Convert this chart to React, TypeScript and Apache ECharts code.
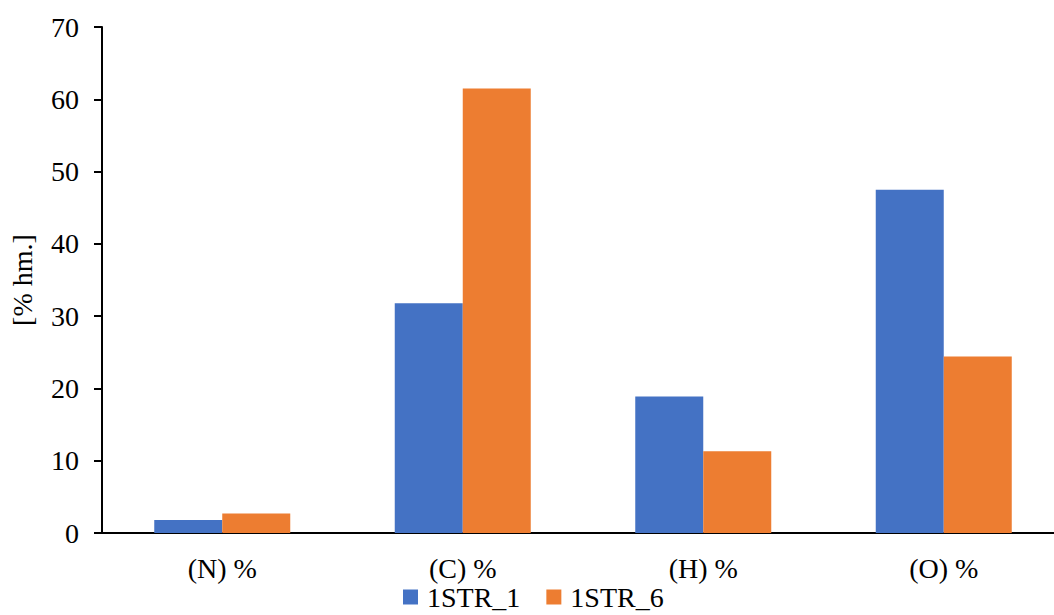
import React, { useEffect, useRef } from "react";
import * as echarts from "echarts";

const categories = ["(N) %", "(C) %", "(H) %", "(O) %"];
const series1Name = "1STR_1";
const series6Name = "1STR_6";
const series1Values = [1.8, 31.8, 18.9, 47.5];
const series6Values = [2.7, 61.5, 11.3, 24.4];
const yTicks = { min: 0, max: 70, interval: 10 };

const FONT = "Liberation Serif";

export default function App() {
  const ref = useRef<HTMLDivElement>(null);
  useEffect(() => {
    if (!ref.current) return;
    const chart = echarts.init(ref.current, undefined, { renderer: "svg" });
    chart.setOption({
      animation: false,
      backgroundColor: "#ffffff",
      textStyle: { fontFamily: FONT },
      grid: { left: 100, top: 27, right: 0, bottom: 82, containLabel: false },
      legend: {
        data: [series1Name, series6Name],
        top: 583,
        left: 403,
        padding: 0,
        icon: "rect",
        itemWidth: 15,
        itemHeight: 15,
        itemGap: 26,
        textStyle: { fontFamily: FONT, fontSize: 28, color: "#000", padding: [0, 0, 0, 4] },
      },
      xAxis: {
        type: "category",
        data: categories,
        axisLine: { show: true, lineStyle: { color: "#000", width: 2 } },
        axisTick: { show: false },
        axisLabel: { fontFamily: FONT, fontSize: 28, color: "#000", margin: 21 },
      },
      yAxis: {
        type: "value",
        min: yTicks.min,
        max: yTicks.max,
        interval: yTicks.interval,
        name: "[% hm.]",
        nameLocation: "middle",
        nameGap: 66,
        nameTextStyle: { fontFamily: FONT, fontSize: 28, color: "#000" },
        axisLine: { show: true, lineStyle: { color: "#000", width: 2 } },
        axisTick: { show: true, length: 8, lineStyle: { color: "#000", width: 2 } },
        axisLabel: { fontFamily: FONT, fontSize: 28, color: "#000", margin: 23 },
        splitLine: { show: false },
      },
      series: [
        {
          name: series1Name,
          type: "bar",
          data: series1Values,
          barWidth: 68,
          barGap: "0%",
          itemStyle: { color: "#4472C4" },
        },
        {
          name: series6Name,
          type: "bar",
          data: series6Values,
          barWidth: 68,
          barGap: "0%",
          itemStyle: { color: "#ED7D31" },
        },
      ],
    });
    return () => chart.dispose();
  }, []);
  return (
    <div
      ref={ref}
      style={{ position: "fixed", left: 0, top: 0, width: 1064, height: 615 }}
    />
  );
}
